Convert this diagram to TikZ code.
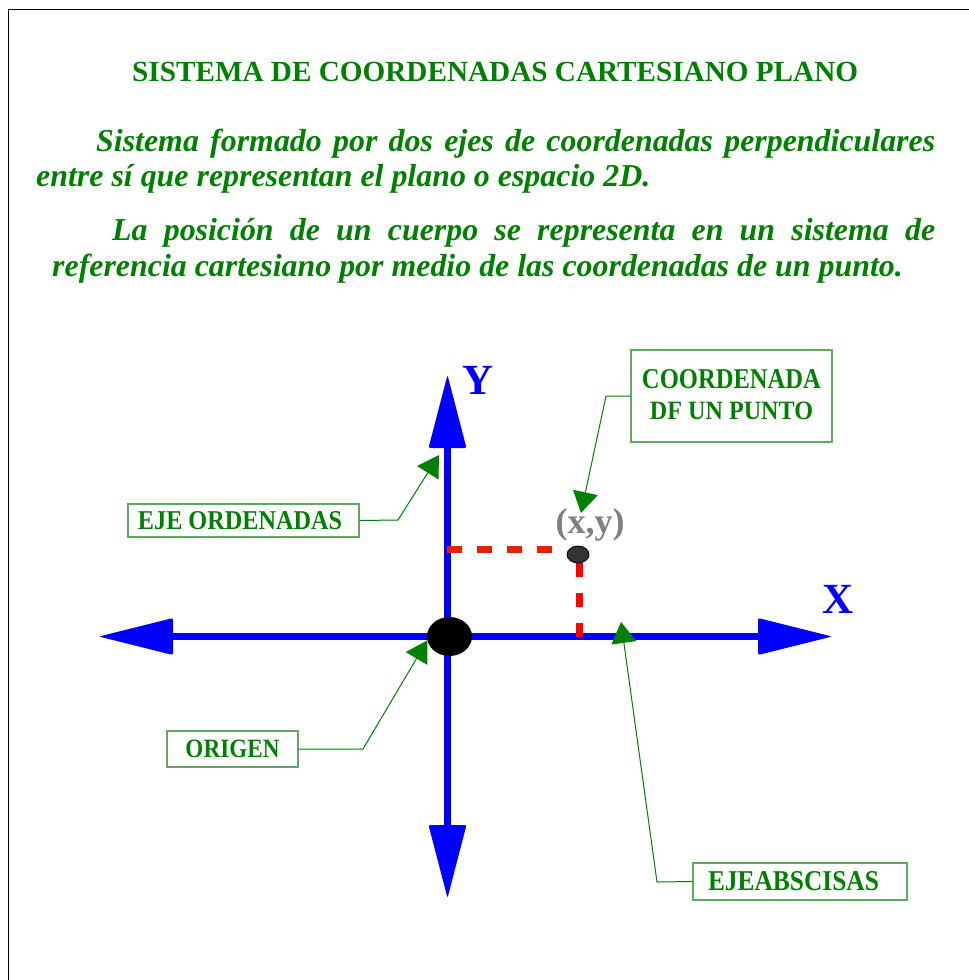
\documentclass[tikz,border=0pt]{standalone}
\usepackage{fontspec}
\setmainfont{Liberation Serif}
\usepackage{graphicx}
\usetikzlibrary{arrows.meta,shapes.geometric}
\definecolor{tgreen}{RGB}{0,128,0}
\definecolor{boxgreen}{RGB}{95,170,95}
\definecolor{dashred}{RGB}{225,35,0}
\definecolor{ptgray}{RGB}{51,51,51}
\definecolor{lblgray}{RGB}{128,128,128}
\begin{document}
\begin{tikzpicture}[x=1pt,y=-1pt,
  axis/.style={blue, line width=7pt},
  axtip/.style={fill=blue, rounded corners=2pt},
  leader/.style={draw=tgreen, line width=1pt, -{Triangle[length=21pt,width=25pt]}},
  labelbox/.style={draw=boxgreen, line width=1.2pt, text=tgreen, inner sep=0pt, font=\bfseries},
  para/.style={anchor=base west, inner sep=0pt, text=tgreen, font=\fontsize{31.9}{36}\selectfont\bfseries\itshape},
  axlabel/.style={anchor=base, inner sep=0pt, text=blue, font=\fontsize{43}{43}\selectfont\bfseries}
]
\useasboundingbox (0,0) rectangle (969,980);
% frame
\draw[line width=1pt] (8,980) -- (8,9.5) -- (969,9.5);
% title and text
\node[anchor=base west, inner sep=0pt, text=tgreen] (title) at (132,81)
  {\resizebox{726pt}{!}{\bfseries SISTEMA DE COORDENADAS CARTESIANO PLANO}};
\node[para] (l1) at (96,151) {\makebox[839pt][s]{Sistema formado por dos ejes de coordenadas perpendiculares}};
\node[para] (l2) at (36,186.5) {entre sí que representan el plano o espacio 2D.};
\node[para] (l3) at (112,240.5) {\makebox[823pt][s]{La posición de un cuerpo se representa en un sistema de}};
\node[para] (l4) at (52,276) {referencia cartesiano por medio de las coordenadas de un punto.};
% axes
\coordinate (xl) at (99,636.5);
\coordinate (xr) at (832,636.5);
\coordinate (yt) at (447.5,375);
\coordinate (yb) at (447.5,898);
\draw[axis] (173,636.5) -- (758,636.5);
\draw[axis] (447.5,448) -- (447.5,825);
\fill[axtip] (xl) -- (173,618) -- (173,655) -- cycle;
\fill[axtip] (xr) -- (758,618) -- (758,655) -- cycle;
\fill[axtip] (yt) -- (428.5,448) -- (466.5,448) -- cycle;
\fill[axtip] (yb) -- (428.5,825) -- (466.5,825) -- cycle;
\node[axlabel] (ylab) at (478.5,394) {Y};
\node[axlabel] (xlab) at (838,613) {X};
% dashed projections
\draw[dashred, line width=6.7pt, dash pattern=on 15pt off 15pt] (447,549.3) -- (552,549.3);
\draw[red, line width=7pt, dash pattern=on 14pt off 16pt] (579.5,637) -- (579.5,549);
% origin and point
\node[ellipse, fill=black, minimum width=45pt, minimum height=39pt, inner sep=0pt] (origin) at (449.5,636.5) {};
\node[ellipse, draw=black, line width=0.8pt, fill=ptgray, minimum width=22pt, minimum height=17pt, inner sep=0pt] (P) at (578,554.5) {};
\node[inner sep=0pt, text=lblgray, font=\fontsize{36}{36}\selectfont\bfseries] (xy) at (590,525) {(x,y)};
% label boxes
\node[labelbox, minimum width=231pt, minimum height=33pt] (eo) at (243.5,520.5)
  {\resizebox{204pt}{18pt}{EJE ORDENADAS}\hspace*{7pt}};
\node[labelbox, minimum width=131pt, minimum height=36pt] (or) at (232.5,749)
  {\resizebox{94pt}{17.5pt}{ORIGEN}};
\node[labelbox, minimum width=201pt, minimum height=92pt] (cp) at (731.5,396)
  {\begin{tabular}{@{}c@{}}\resizebox{179pt}{19pt}{COORDENADA}\\[10pt]\resizebox{163pt}{17.5pt}{DF UN PUNTO}\end{tabular}};
\node[labelbox, minimum width=214pt, minimum height=37pt] (ab) at (800,881.5)
  {\resizebox{171pt}{19pt}{EJEABSCISAS}\hspace*{13pt}};
% leader arrows
\coordinate (tipEO) at (439,455);
\coordinate (tipCP) at (581,513);
\coordinate (tipAB) at (621,622);
\draw[leader] (eo.east) -- (398,520) -- (tipEO);
\draw[leader] (or.east) -- (363,749) -- (origin.190);
\draw[leader] (cp.west) -- (606,396) -- (tipCP);
\draw[leader] (ab.west) -- (657,882) -- (tipAB);
\end{tikzpicture}
\end{document}
